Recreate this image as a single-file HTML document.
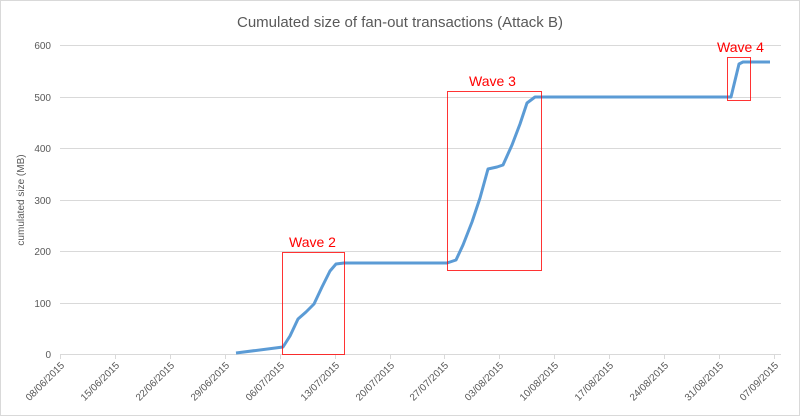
<!DOCTYPE html>
<html><head><style>body{margin:0;background:#fff}svg{display:block}</style></head><body>
<svg width="800" height="416" xmlns="http://www.w3.org/2000/svg" font-family="Liberation Sans, sans-serif">
<rect x="0.5" y="0.5" width="799" height="415" fill="#fff" stroke="#d9d9d9"/>
<text x="400" y="27" text-anchor="middle" font-size="15" fill="#595959">Cumulated size of fan-out transactions (Attack B)</text>
<g stroke="#d9d9d9" stroke-width="1">
<line x1="60" x2="781" y1="45.5" y2="45.5"/><line x1="60" x2="781" y1="97.5" y2="97.5"/><line x1="60" x2="781" y1="148.5" y2="148.5"/><line x1="60" x2="781" y1="200.5" y2="200.5"/><line x1="60" x2="781" y1="251.5" y2="251.5"/><line x1="60" x2="781" y1="303.5" y2="303.5"/><line x1="60" x2="781" y1="354.5" y2="354.5"/>
</g>
<g stroke="#d9d9d9">
<line x1="60.5" x2="60.5" y1="354" y2="359"/><line x1="115.5" x2="115.5" y1="354" y2="359"/><line x1="170.5" x2="170.5" y1="354" y2="359"/><line x1="225.5" x2="225.5" y1="354" y2="359"/><line x1="280.5" x2="280.5" y1="354" y2="359"/><line x1="335.5" x2="335.5" y1="354" y2="359"/><line x1="390.5" x2="390.5" y1="354" y2="359"/><line x1="444.5" x2="444.5" y1="354" y2="359"/><line x1="499.5" x2="499.5" y1="354" y2="359"/><line x1="554.5" x2="554.5" y1="354" y2="359"/><line x1="609.5" x2="609.5" y1="354" y2="359"/><line x1="664.5" x2="664.5" y1="354" y2="359"/><line x1="719.5" x2="719.5" y1="354" y2="359"/><line x1="774.5" x2="774.5" y1="354" y2="359"/>
</g>
<g font-size="10" fill="#595959" text-anchor="end">
<text x="51" y="358">0</text><text x="51" y="307">100</text><text x="51" y="255">200</text><text x="51" y="204">300</text><text x="51" y="152">400</text><text x="51" y="101">500</text><text x="51" y="49">600</text>
</g>
<text transform="translate(24,200) rotate(-90)" text-anchor="middle" font-size="10" fill="#595959">cumulated size (MB)</text>
<g font-size="10" fill="#595959" text-anchor="end">
<text transform="translate(65,366) rotate(-45)">08/06/2015</text>
<text transform="translate(120,366) rotate(-45)">15/06/2015</text>
<text transform="translate(175,366) rotate(-45)">22/06/2015</text>
<text transform="translate(230,366) rotate(-45)">29/06/2015</text>
<text transform="translate(285,366) rotate(-45)">06/07/2015</text>
<text transform="translate(340,366) rotate(-45)">13/07/2015</text>
<text transform="translate(395,366) rotate(-45)">20/07/2015</text>
<text transform="translate(449,366) rotate(-45)">27/07/2015</text>
<text transform="translate(504,366) rotate(-45)">03/08/2015</text>
<text transform="translate(559,366) rotate(-45)">10/08/2015</text>
<text transform="translate(614,366) rotate(-45)">17/08/2015</text>
<text transform="translate(669,366) rotate(-45)">24/08/2015</text>
<text transform="translate(724,366) rotate(-45)">31/08/2015</text>
<text transform="translate(779,366) rotate(-45)">07/09/2015</text>
</g>
<polyline fill="none" stroke="#5b9bd5" stroke-width="3" stroke-linejoin="round" points="236,353 283,347 290,336 298,319 306,312 314,304 322,287 330,271 336,264 344,263 447,263 456,260 463,245 472,222 480,198 488,169 497,167 503,165 512,145 520,124 527,103 535,97 728,97 731,97 739,64 743,62 770,62"/>
<g fill="none" stroke="#ff0000" stroke-width="1" opacity="0.8">
<rect x="282.5" y="252.5" width="62" height="102"/>
<rect x="447.5" y="91.5" width="94" height="179"/>
<rect x="727.5" y="57.5" width="23" height="43"/>
</g>
<g fill="#ff0000" font-size="14">
<text x="289" y="247">Wave 2</text>
<text x="469" y="86">Wave 3</text>
<text x="717" y="52">Wave 4</text>
</g>
</svg>
</body></html>
